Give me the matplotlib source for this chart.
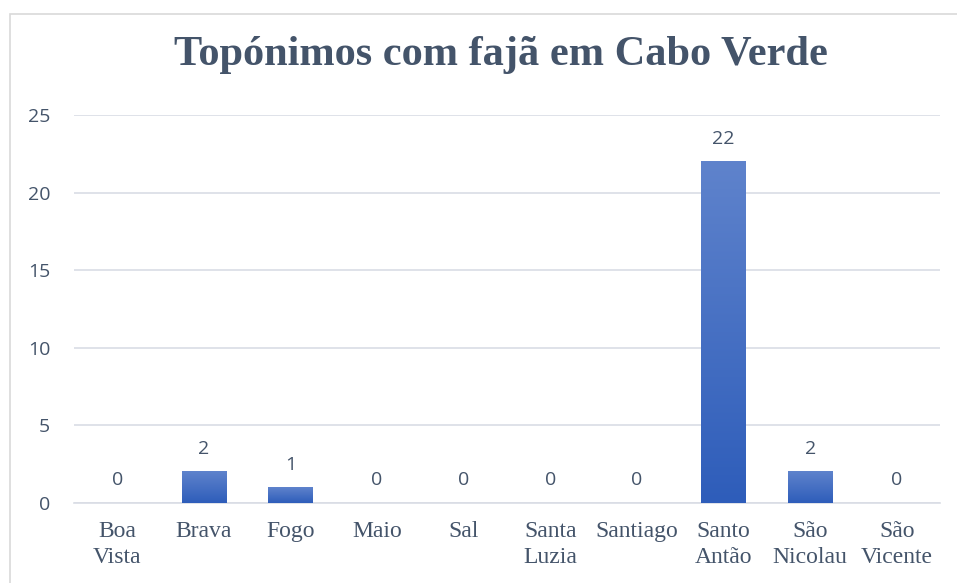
import matplotlib.pyplot as plt
import numpy as np
from matplotlib.patches import Rectangle

islands = ['Boa\nVista', 'Brava', 'Fogo', 'Maio', 'Sal', 'Santa\nLuzia',
           'Santiago', 'Santo\nAntão', 'São\nNicolau', 'São\nVicente']
counts = [0, 2, 1, 0, 0, 0, 0, 22, 2, 0]
yticks = [0, 5, 10, 15, 20, 25]

textColor = '#44546A'
gridColor = '#D9DDE5'

fig = plt.figure(figsize=(9.57, 5.83), dpi=100)
ax = fig.add_axes([0.0773, 0.1372, 0.905, 0.6655])

x = np.arange(len(islands))
bars = ax.bar(x, counts, width=0.51, color='#4472C4', zorder=2)

# vertical gradient on each bar
grad = np.linspace(0, 1, 256).reshape(-1, 1)
cmap = plt.matplotlib.colors.LinearSegmentedColormap.from_list('g', ['#2E5DBA', '#5F83CC'])
for b in bars:
    h = b.get_height()
    if h <= 0:
        continue
    x0 = b.get_x()
    w = b.get_width()
    ax.imshow(grad, extent=[x0, x0 + w, 0, h], origin='lower', cmap=cmap,
              aspect='auto', zorder=3)

for xi, v in zip(x, counts):
    ax.text(xi, v + 0.9, str(v), ha='center', va='bottom', fontsize=14,
            color=textColor, family='Open Sans')

ax.set_xlim(-0.5, len(islands) - 0.5)
ax.set_ylim(0, 25)
ax.set_yticks(yticks)
ax.set_yticklabels([str(t) for t in yticks], fontsize=14, color=textColor, family='Open Sans')
ax.set_xticks(x)
ax.set_xticklabels(islands, fontsize=17, color=textColor, family='Liberation Serif',
                   linespacing=1.3)
ax.tick_params(axis='both', length=0)
ax.tick_params(axis='y', pad=17)
ax.tick_params(axis='x', pad=13)

ax.grid(axis='y', color=gridColor, linewidth=1.2, zorder=0)
for s in ['top', 'left', 'right']:
    ax.spines[s].set_visible(False)
ax.spines['bottom'].set_color(gridColor)
ax.spines['bottom'].set_linewidth(1.2)

fig.text(0.523, 0.905, 'Topónimos com fajã em Cabo Verde', ha='center', va='center',
         fontsize=30.5, fontweight='bold', color=textColor, family='Liberation Serif')

fig.patches.append(Rectangle((10 / 957, -0.1), 1.1, 1 - 14 / 583 + 0.1,
                             transform=fig.transFigure, fill=False,
                             edgecolor='#D9D9D9', linewidth=1.2))

fig.savefig('out.png', dpi=100)
